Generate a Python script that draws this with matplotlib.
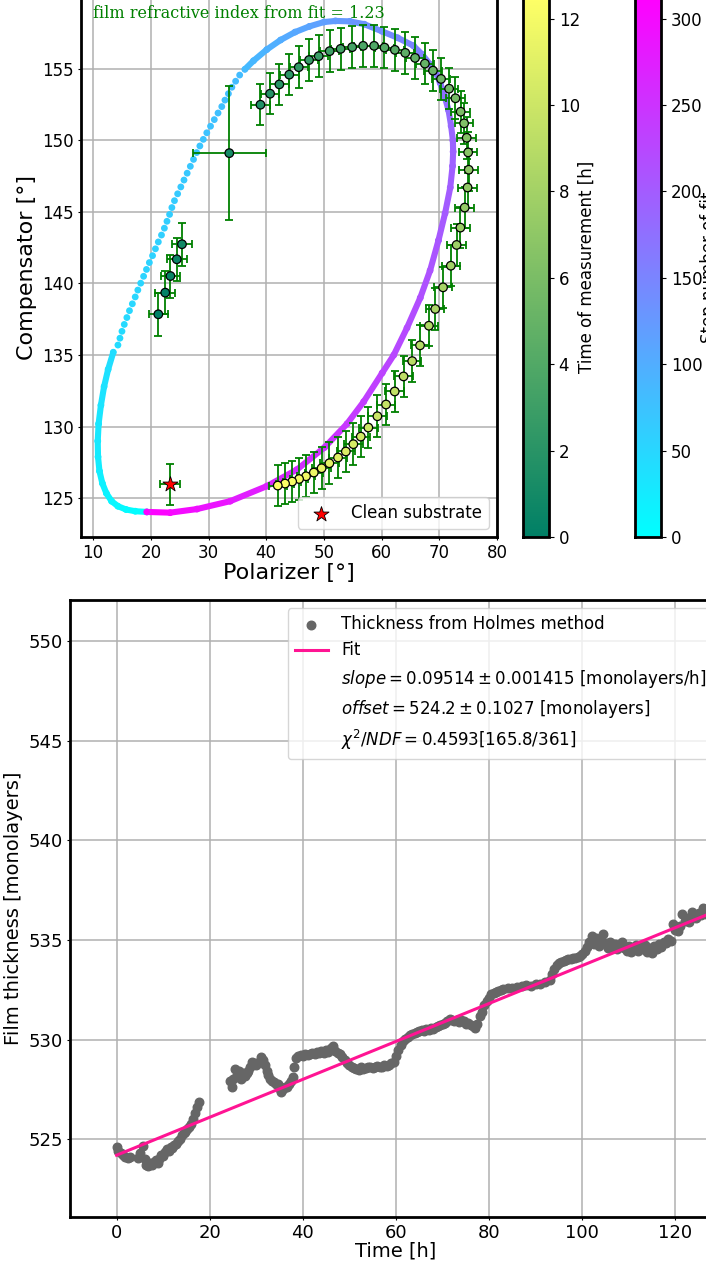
import numpy as np
import matplotlib
matplotlib.use("Agg")
import matplotlib.pyplot as plt
from matplotlib.collections import LineCollection
from matplotlib.colors import Normalize
from matplotlib.cm import ScalarMappable
from matplotlib.lines import Line2D

# ---- top panel: measured (polarizer, compensator) angles ----
meas_p = [21.3, 22.5, 23.4, 24.5, 25.4, 33.6,
          39.0, 40.67, 42.28, 44.0, 45.64, 47.43, 49.1, 51.0, 52.9, 54.9, 56.8, 58.7,
          60.5, 62.3, 64.1, 65.8, 67.5, 68.9, 70.3, 71.7, 72.8, 73.7, 74.3, 74.75,
          75.0, 75.1, 74.9, 74.4, 73.65, 73.0, 72.0, 70.65, 69.3, 68.2, 66.66, 65.3,
          63.8, 62.27, 60.77, 59.27, 57.7, 56.39, 55.1, 53.8, 52.45, 50.95, 49.6,
          48.25, 46.9, 45.7, 44.5, 43.27, 42.0]
meas_c = [137.85, 139.36, 140.52, 141.69, 142.74, 149.1,
          152.48, 153.25, 153.9, 154.58, 155.1, 155.6, 155.87, 156.22, 156.38, 156.5,
          156.59, 156.59, 156.47, 156.31, 156.1, 155.75, 155.35, 154.86, 154.28, 153.6,
          152.93, 151.99, 151.18, 150.17, 149.15, 147.94, 146.7, 145.3, 143.9, 142.69,
          141.24, 139.73, 138.22, 137.05, 135.68, 134.58, 133.51, 132.46, 131.55, 130.73,
          129.94, 129.31, 128.78, 128.27, 127.85, 127.45, 127.1, 126.8, 126.54, 126.35,
          126.17, 126.03, 125.89]
meas_t = [0.0, 0.22, 0.44, 0.66, 0.88, 1.1,
          1.60, 1.81, 2.02, 2.24, 2.45, 2.66, 2.87, 3.08, 3.30, 3.51, 3.72, 3.93, 4.14,
          4.36, 4.57, 4.78, 4.99, 5.20, 5.42, 5.63, 5.84, 6.05, 6.26, 6.48, 6.69, 6.90,
          7.11, 7.32, 7.54, 7.75, 7.96, 8.17, 8.38, 8.60, 8.81, 9.02, 9.23, 9.44, 9.66,
          9.87, 10.08, 10.29, 10.50, 10.72, 10.93, 11.14, 11.35, 11.56, 11.78, 11.99,
          12.15, 12.30, 12.45]
meas_perr = [1.7, 1.7, 1.7, 1.7, 1.7, 6.35] + [1.6] * 53
meas_cerr = [1.5, 1.5, 1.5, 1.5, 1.5, 4.7] + [1.45] * 53

substrate_p = 23.35
substrate_c = 125.98
substrate_perr = 1.7
substrate_cerr = 1.45

# model curve (step number of fit, polarizer, compensator)
fit_step = [0, 3, 6, 9, 12, 15, 18, 21, 24, 27, 30, 33, 36, 39, 42,
            43, 44, 45, 46, 47, 48, 49, 50, 51, 52, 53, 54, 55, 56, 57, 58, 59, 60, 61,
            62, 63, 64, 65, 66, 67, 68, 69, 70, 71, 72, 73, 74, 75, 76, 77, 78, 79, 80,
            81, 82, 83,
            84, 88, 95, 101, 107, 112, 118, 122, 127, 133, 140, 146, 152, 156, 161, 165,
            169, 174, 179, 185, 190, 192, 194, 197, 201, 206, 211, 215, 220, 225, 230,
            237, 243, 250, 259, 268, 282, 294, 304, 312]
fit_p = [19.3, 17.3, 15.7, 14.3, 13.2, 12.3, 11.6, 11.1, 10.85, 10.8, 10.95, 11.35,
         11.9, 12.6, 13.5,
         14.3, 14.65, 15.0, 15.4, 15.85, 16.3, 16.8, 17.3, 17.75, 18.25, 18.75, 19.25,
         19.75, 20.3, 20.8, 21.3, 21.85, 22.35, 22.8, 23.25, 23.65, 24.1, 24.65, 25.2,
         25.75, 26.3, 26.85, 27.4, 27.95, 28.5, 29.1, 29.7, 30.35, 31.0, 31.65, 32.3,
         32.85, 33.45, 34.05, 34.7, 35.4,
         36.3, 37.8, 40.1, 42.5, 45.0, 47.5, 50.0, 52.0, 54.5, 57.0, 60.1, 62.8, 65.5,
         67.0, 68.4, 69.4, 70.15, 70.9, 71.6, 72.05, 72.35, 72.4, 72.3, 71.9, 71.0,
         69.85, 68.4, 66.7, 64.4, 62.1, 60.1, 56.9, 54.0, 50.1, 45.3, 40.1, 33.75, 28.0,
         23.35, 19.3]
fit_c = [124.05, 124.1, 124.22, 124.45, 124.8, 125.35, 126.05, 126.9, 127.9, 129.0,
         130.2, 131.5, 132.8, 134.0, 135.2,
         135.7, 136.18, 136.66, 137.14, 137.62, 138.1, 138.58, 139.06, 139.54, 140.02,
         140.5, 140.98, 141.46, 141.94, 142.42, 142.9, 143.38, 143.86, 144.34, 144.82,
         145.3, 145.78, 146.26, 146.74, 147.22, 147.7, 148.18, 148.66, 149.14, 149.6,
         150.06, 150.52, 150.98, 151.44, 151.9, 152.35, 152.8, 153.25, 153.7, 154.12,
         154.55,
         154.95, 155.55, 156.33, 157.0, 157.55, 157.95, 158.25, 158.33, 158.3, 158.1,
         157.6, 157.15, 156.6, 156.0, 155.3, 154.7, 154.0, 153.1, 152.1, 151.0, 150.0,
         149.2, 148.2, 146.7, 144.9, 143.0, 140.9, 139.0, 136.9, 135.0, 133.75, 131.75,
         130.2, 128.55, 127.0, 125.85, 124.8, 124.25, 124.0, 124.05]

refr_index = 1.23

# ---- bottom panel: film thickness vs time ----
thick_t = [0.0, 0.4, 0.9, 1.4, 1.9, 2.4, 2.8, 4.6, 5.1, 5.6, 6.0, 6.4, 6.8, 7.2, 7.6,
           8.0, 8.4, 8.8, 9.2, 9.6, 10.0, 10.4, 10.8, 11.2, 11.6, 12.0, 12.4, 12.8, 13.2,
           13.6, 14.0, 14.4, 14.8, 15.2, 15.6, 16.0, 16.4, 16.8, 17.2, 17.6,
           24.3, 24.7, 25.1, 25.5, 25.9, 26.3, 26.7, 27.1, 27.5, 27.9, 28.3, 28.7, 29.1,
           29.5, 30.0, 30.5, 31.0, 31.4, 31.8, 32.2, 32.6, 33.0, 33.4, 33.8, 34.2, 34.6,
           35.0, 35.4, 35.8, 36.2, 36.6, 37.0, 37.4, 37.8, 38.2, 38.6,
           39.0, 39.5, 40.0, 40.5, 41.0, 41.5, 42.0, 42.5, 43.0, 43.5, 44.0, 44.5, 45.0,
           45.5, 46.0, 46.5, 47.0, 47.5, 48.0, 48.5, 49.0, 49.5, 50.0, 50.5, 51.0, 51.5,
           52.0, 52.5, 53.0, 53.5, 54.0, 54.5, 55.0, 55.5, 56.0, 56.5, 57.0, 57.5, 58.0,
           58.5, 59.0, 59.5,
           60.0, 60.5, 61.0, 61.5, 62.0, 62.5, 63.0, 63.5, 64.0, 64.5, 65.0, 65.5, 66.0,
           66.5, 67.0, 67.5, 68.0, 68.5, 69.0, 69.5, 70.0, 70.5, 71.0, 71.5, 72.0, 72.5,
           73.0, 73.5, 74.0, 74.5, 75.0, 75.5, 76.0, 76.5, 77.0, 77.5, 78.0, 78.5, 79.0,
           79.5, 80.0, 80.5, 81.0, 81.5, 82.0, 82.5, 83.0, 84.0, 85.0, 86.0, 87.0, 88.0,
           89.0, 90.0, 91.0, 92.0, 93.0,
           93.5, 94.0, 94.5, 95.0, 95.5, 96.0, 96.5, 97.0, 97.5, 98.0, 98.5, 99.0, 99.5,
           100.0, 100.5, 101.0, 101.5, 102.0, 102.5, 103.0, 103.5, 104.0, 104.5, 105.0,
           105.5, 106.0, 106.5, 107.0, 107.5, 108.0, 108.5, 109.0, 109.5, 110.0, 110.5,
           111.0, 111.5, 112.0, 112.5, 113.0, 113.5, 114.0, 114.5, 115.0, 115.5, 116.0,
           116.5, 117.0, 117.5, 118.0, 118.5, 119.0, 119.5, 120.0, 120.5, 121.0, 121.5,
           122.0, 122.5, 123.0, 123.5, 124.0, 124.5, 125.0, 125.5, 126.0, 126.5, 127.0]
thick_v = [524.6, 524.4, 524.3, 524.2, 524.1, 524.05, 524.1, 524.05, 524.3, 524.65, 524.0,
           523.7, 523.65, 523.8, 523.7, 523.85, 523.95, 523.8, 524.0, 524.2, 524.15,
           524.35, 524.5, 524.4, 524.6, 524.55, 524.7, 524.75, 524.9, 525.0, 525.2, 525.3,
           525.35, 525.5, 525.6, 525.75, 526.0, 526.3, 526.6, 526.85,
           527.9, 527.6, 528.0, 528.5, 528.2, 528.4, 528.0, 528.3, 528.15, 528.3, 528.4,
           528.6, 528.9, 528.85, 528.7, 528.9, 529.15, 529.0, 528.7, 528.4, 528.2, 528.0,
           527.9, 527.85, 527.75, 527.75, 527.5, 527.35, 527.5, 527.6, 527.6, 527.75,
           527.9, 528.1, 528.6, 529.1,
           529.2, 529.25, 529.2, 529.3, 529.25, 529.3, 529.35, 529.3, 529.4, 529.35,
           529.45, 529.35, 529.5, 529.4, 529.6, 529.7, 529.45, 529.35, 529.3, 529.15,
           529.0, 528.85, 528.7, 528.6, 528.55, 528.5, 528.45, 528.6, 528.5, 528.55,
           528.6, 528.6, 528.55, 528.6, 528.65, 528.6, 528.6, 528.7, 528.65, 528.7,
           528.8, 528.9,
           529.2, 529.5, 529.75, 529.95, 530.05, 530.15, 530.25, 530.3, 530.35, 530.4,
           530.45, 530.5, 530.45, 530.55, 530.5, 530.6, 530.55, 530.65, 530.7, 530.75,
           530.8, 530.85, 530.95, 531.05, 531.0, 530.95, 531.0, 530.9, 531.0, 530.95,
           530.8, 530.85, 530.75, 530.7, 530.6, 530.8, 531.2, 531.4, 531.75, 531.95,
           532.1, 532.3, 532.35, 532.4, 532.45, 532.5, 532.55, 532.6, 532.6, 532.65,
           532.7, 532.75, 532.7, 532.8, 532.8, 532.9, 533.0,
           533.3, 533.55, 533.75, 533.85, 533.9, 533.95, 534.0, 534.05, 534.05, 534.1,
           534.1, 534.15, 534.2, 534.3, 534.45, 534.65, 534.9, 535.2, 534.8, 535.1,
           534.7, 535.0, 535.3, 534.85, 534.6, 534.9, 534.65, 534.8, 534.55, 534.75,
           534.9, 534.6, 534.45, 534.7, 534.4, 534.6, 534.75, 534.45, 534.7, 534.55,
           534.75, 534.4, 534.6, 534.35, 534.7, 534.55, 534.8, 534.65, 534.9, 534.85,
           535.05, 534.95, 535.8, 535.5, 535.45, 535.7, 536.3, 535.95, 536.1, 535.9,
           536.4, 536.2, 536.1, 536.35, 536.25, 536.6, 536.3, 536.5]

slope, slope_err = 0.09514, 0.001415
offset, offset_err = 524.2, 0.1027
chi2, ndf = 165.8, 361

W, H = 706, 1267
fig = plt.figure(figsize=(W / 100, H / 100), dpi=100)


def px_axes(x0, x1, y_top, y_bot):
    return fig.add_axes([x0 / W, (H - y_bot) / H, (x1 - x0) / W, (y_bot - y_top) / H])


GRID = dict(color="#b0b0b0", linewidth=1.1)

# ---------------- top panel ----------------
ax = px_axes(81, 497, -3, 537)
cax1 = px_axes(523, 549, -3, 537)
cax2 = px_axes(635, 661, -3, 537)

ax.set_xlim(7.9, 80)
ax.set_ylim(122.3, 160.0)
ax.set_axisbelow(True)
ax.grid(True, **GRID)

step_norm = Normalize(0, 312.5)
pts = np.column_stack([fit_p, fit_c])
segs, seg_val = [], []
for i in range(len(fit_step) - 1):
    if fit_step[i + 1] - fit_step[i] > 1:
        segs.append([pts[i], pts[i + 1]])
        seg_val.append(0.5 * (fit_step[i] + fit_step[i + 1]))
lc = LineCollection(segs, cmap="cool", norm=step_norm, linewidths=4.4,
                    capstyle="round", zorder=2)
lc.set_array(np.array(seg_val))
ax.add_collection(lc)
ax.scatter(fit_p, fit_c, c=fit_step, cmap="cool", norm=step_norm, s=24,
           linewidths=0, zorder=2)

ax.errorbar(meas_p, meas_c, xerr=meas_perr, yerr=meas_cerr, fmt="none",
            ecolor="green", elinewidth=1.3, capsize=3, capthick=1.3, zorder=3)
sc = ax.scatter(meas_p, meas_c, c=meas_t, cmap="summer", vmin=0, vmax=12.5, s=38,
                edgecolors="black", linewidths=0.9, zorder=4)

ax.errorbar(substrate_p, substrate_c, xerr=substrate_perr, yerr=substrate_cerr,
            fmt="none", ecolor="green", elinewidth=1.3, capsize=3, capthick=1.3,
            zorder=3)
ax.scatter(substrate_p, substrate_c, marker="*", s=130, c="red", edgecolors="black",
           linewidths=0.6, zorder=5, label="Clean substrate")

ax.text(10, 158.55, f"film refractive index from fit = {refr_index}",
        family="DejaVu Serif", fontsize=11.5, color="green")

ax.set_xticks(range(10, 81, 10))
ax.set_yticks(range(125, 156, 5))
ax.tick_params(labelsize=12, length=2, pad=3)
ax.set_xlabel("Polarizer [°]", fontsize=16, labelpad=1)
ax.set_ylabel("Compensator [°]", fontsize=16)
for s in ax.spines.values():
    s.set_linewidth(2)
ax.legend(loc="lower right", fontsize=12)

cb1 = fig.colorbar(sc, cax=cax1)
cb1.set_ticks(range(0, 13, 2))
cb1.ax.tick_params(labelsize=12)
cb1.set_label("Time of measurement [h]", fontsize=12, labelpad=-1.5)
cb1.outline.set_linewidth(2)

cb2 = fig.colorbar(ScalarMappable(norm=step_norm, cmap="cool"), cax=cax2)
cb2.set_ticks(range(0, 301, 50))
cb2.ax.tick_params(labelsize=12)
cb2.set_label("Step number of fit", fontsize=12, labelpad=-1.5)
cb2.outline.set_linewidth(2)

# ---------------- bottom panel ----------------
ax2 = px_axes(70, 722, 600, 1217)
ax2.set_xlim(-10, 130)
ax2.set_ylim(521.1, 552.05)
ax2.set_axisbelow(True)
ax2.grid(True, **GRID)

pts2 = ax2.scatter(thick_t, thick_v, s=38, color="#666666", zorder=3,
                   label="Thickness from Holmes method")
fit_t = np.array([thick_t[0], 130.0])
line, = ax2.plot(fit_t, slope * fit_t + offset, color="#ff1493", lw=2.2, zorder=4,
                 label="Fit")

blank = Line2D([], [], linestyle="none")
labels = ["Thickness from Holmes method", "Fit",
          rf"$slope = {slope} \pm {slope_err}$ [monolayers/h]",
          rf"$offset = {offset} \pm {offset_err}$ [monolayers]",
          rf"$\chi^2/NDF = {chi2 / ndf:.4f}[{chi2}/{ndf}]$"]
ax2.legend([pts2, line, blank, blank, blank], labels, loc="upper right", fontsize=12)

ax2.set_xticks(range(0, 121, 20))
ax2.set_yticks(range(525, 551, 5))
ax2.tick_params(labelsize=13, length=2, pad=3)
ax2.set_xlabel("Time [h]", fontsize=14, labelpad=0)
ax2.set_ylabel("Film thickness [monolayers]", fontsize=14)
for s in ax2.spines.values():
    s.set_linewidth(2)

fig.savefig("out.png", dpi=100)
